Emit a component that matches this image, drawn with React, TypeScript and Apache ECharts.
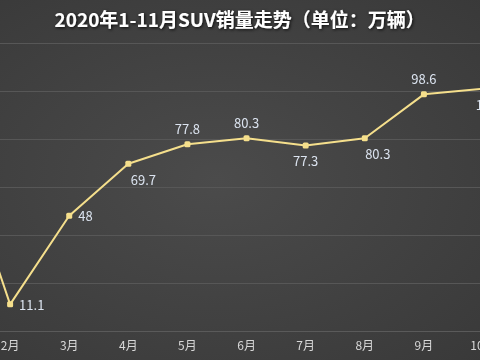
import React, { useEffect, useRef } from "react";
import * as echarts from "echarts";

const months = ["1月", "2月", "3月", "4月", "5月", "6月", "7月", "8月", "9月", "10月"];
const sales = [84, 11.1, 48, 69.7, 77.8, 80.3, 77.3, 80.3, 98.6, 100.9];
const labelPos = ["top", "right", "right", "bottom", "top", "top", "bottom", "bottom", "top", "bottom"];
const labelShift = [0, 0, 0, 15, 0, 0, 0, 13, 0, 9];

const SHIFT_L = 48.6;
const SHIFT_R = 3.6;
const W = 480 + SHIFT_L + SHIFT_R;

export default function App() {
  const ref = useRef<HTMLDivElement>(null);
  useEffect(() => {
    const chart = echarts.init(ref.current!, null, { renderer: "svg" });
    const data = sales.map((v, i) => ({
      value: v,
      label: { position: labelPos[i], offset: [labelShift[i], 0] },
    }));
    chart.setOption({
      animation: false,
      backgroundColor: {
        type: "radial",
        x: 0.5,
        y: 0.5,
        r: 0.75,
        colorStops: [
          { offset: 0, color: "#4b4b4b" },
          { offset: 1, color: "#383838" },
        ],
      },
      title: {
        text: "2020年1-11月SUV销量走势（单位：万辆）",
        left: SHIFT_L + 235,
        textAlign: "center",
        top: 4,
        textStyle: {
          color: "#ffffff",
          fontSize: 19,
          fontWeight: "bold",
          fontFamily: "Noto Sans CJK SC",
          textShadowColor: "rgba(0,0,0,0.8)",
          textShadowBlur: 3,
          textShadowOffsetX: 1,
          textShadowOffsetY: 1,
        },
      },
      grid: {
        left: 0,
        right: 0,
        top: 43,
        bottom: 29,
        containLabel: false,
        outerBoundsMode: "none",
      },
      xAxis: {
        type: "category",
        data: months,
        boundaryGap: false,
        axisLine: { lineStyle: { color: "#5a5a5a" } },
        axisTick: { show: false },
        axisLabel: {
          color: "#d8d8d8",
          fontSize: 12,
          fontFamily: "Noto Sans CJK SC",
          margin: 7,
          showMinLabel: true,
          showMaxLabel: true,
        },
      },
      yAxis: {
        type: "value",
        min: 0,
        max: 120,
        interval: 20,
        axisLabel: { show: false },
        axisLine: { show: false },
        axisTick: { show: false },
        splitLine: { lineStyle: { color: "#575757", width: 1 } },
      },
      series: [
        {
          type: "line",
          data,
          symbol: "roundRect",
          symbolSize: 6,
          lineStyle: { color: "#f5df8c", width: 2 },
          itemStyle: { color: "#f5df8c" },
          label: {
            show: true,
            color: "#dbe3ef",
            fontSize: 13,
            fontFamily: "Noto Sans CJK SC",
            distance: 6,
          },
        },
      ],
    });
    return () => chart.dispose();
  }, []);
  return (
    <div style={{ position: "fixed", left: 0, top: 0, width: 480, height: 360, overflow: "hidden" }}>
      <div ref={ref} style={{ width: W, height: 360, position: "absolute", left: -SHIFT_L, top: 0 }} />
    </div>
  );
}
